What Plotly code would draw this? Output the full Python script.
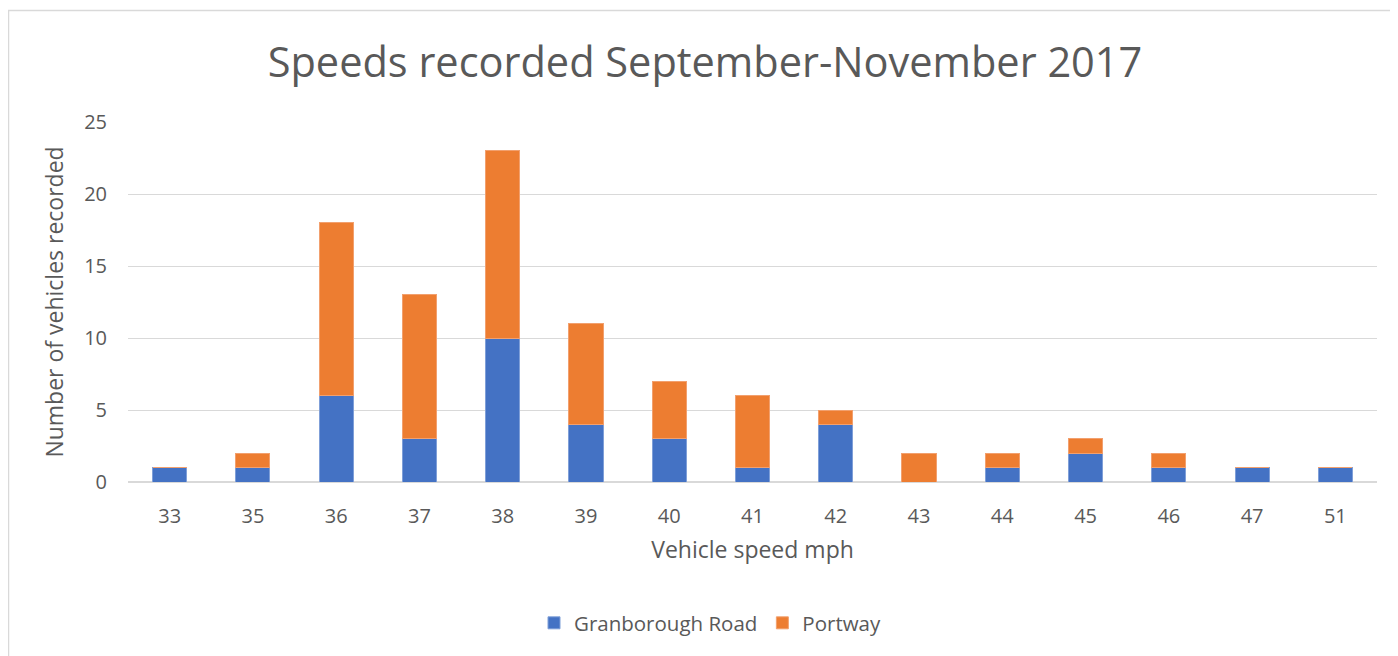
import plotly.graph_objects as go

speeds = ["33", "35", "36", "37", "38", "39", "40", "41", "42", "43", "44", "45", "46", "47", "51"]
granborough = [1, 1, 6, 3, 10, 4, 3, 1, 4, 0, 1, 2, 1, 1, 1]
portway = [0, 1, 12, 10, 13, 7, 4, 5, 1, 2, 1, 1, 1, 0, 0]

# page body has an 8px margin, so figure coords = reference coords - 8
OFF = 8
W, H = 1390, 648
L, R, T, B = 120, 21, 114, 174
pw, ph = W - L - R, H - T - B

def px_x(p):
    return (p - OFF - L) / pw

def px_y(p):
    return (H - B - (p - OFF)) / ph

font = "Open Sans, Liberation Sans, sans-serif"
grey = "#595959"

fig = go.Figure()
fig.add_trace(go.Bar(x=speeds, y=granborough, name="Granborough Road",
                     marker=dict(color="#4472C4", line=dict(color="#7F9FD8", width=1))))
fig.add_trace(go.Bar(x=speeds, y=portway, name="Portway",
                     marker=dict(color="#ED7D31", line=dict(color="#F2A06E", width=1))))

fig.update_layout(
    width=W, height=H,
    margin=dict(l=L, r=R, t=T, b=B),
    barmode="stack", bargap=0.59,
    plot_bgcolor="white", paper_bgcolor="white",
    font=dict(family=font, color=grey, size=20),
    title=dict(text="Speeds recorded September-November 2017", x=px_x(705), xref="paper",
               xanchor="center", y=1 - (62 - OFF) / H, yanchor="middle",
               font=dict(size=41.5, color=grey, family=font)),
    xaxis=dict(type="category", showgrid=False, showline=False, ticks="",
               tickfont=dict(size=20, color=grey), ticklabelstandoff=20,
               title=dict(text="Vehicle speed mph", font=dict(size=23, color=grey), standoff=13)),
    yaxis=dict(range=[0, 25], dtick=5, showgrid=True, gridcolor="#d9d9d9", gridwidth=1,
               zeroline=True, zerolinecolor="#d9d9d9", zerolinewidth=2,
               showline=False, ticks="", tickfont=dict(size=20, color=grey), ticklabelstandoff=20,
               title=dict(text="Number of vehicles recorded", font=dict(size=23, color=grey), standoff=14)),
    legend=dict(orientation="h", x=px_x(710), xanchor="center", xref="paper",
                y=px_y(623), yanchor="middle", font=dict(size=20.5, color=grey),
                itemwidth=30, traceorder="normal"),
    showlegend=True,
)

fig.add_shape(type="rect", xref="paper", yref="paper",
              x0=px_x(8.5), x1=px_x(1410), y0=px_y(670), y1=px_y(10.5),
              line=dict(color="#d9d9d9", width=1.5), fillcolor="rgba(0,0,0,0)", layer="below")

fig.write_html("out.html")
